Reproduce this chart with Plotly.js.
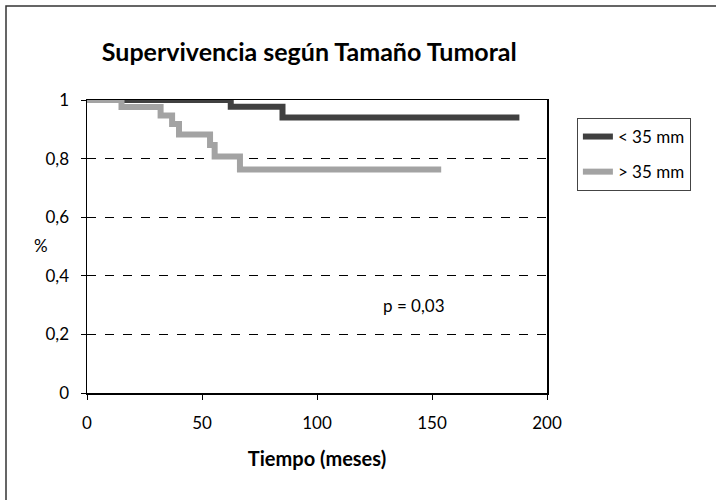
<!DOCTYPE html>
<html>
<head>
<meta charset="utf-8">
<script src="https://cdn.plot.ly/plotly-3.0.1.min.js"></script>
<style>html,body{margin:0;padding:0;background:#fff;}#chart{width:716px;height:500px;}</style>
</head>
<body>
<div id="chart"></div>
<script>
// Data (Kaplan-Meier step curves)
const smallTimes = [0, 62.5, 85, 188];
const smallSurv  = [1, 0.977, 0.940, 0.940];
const largeTimes = [0, 15, 32, 37, 40, 53.5, 55.5, 66.5, 154];
const largeSurv  = [1, 0.976, 0.947, 0.918, 0.882, 0.846, 0.807, 0.763, 0.763];
const seriesNames = ["&lt; 35 mm", "&gt; 35 mm"];
const xTicks = [0, 50, 100, 150, 200];
const yTicks = [0, 0.2, 0.4, 0.6, 0.8, 1];
const yTickText = ["0", "0,2", "0,4", "0,6", "0,8", "1"];

const FONT = "Lato, 'Open Sans', sans-serif";

const traces = [
  {x: smallTimes, y: smallSurv, name: seriesNames[0], mode: "lines", line: {shape: "hv", color: "#404040", width: 6}, legendgroup: "a"},
  {x: largeTimes, y: largeSurv, name: seriesNames[1], mode: "lines", line: {shape: "hv", color: "#a3a3a3", width: 6}, legendgroup: "b"}
];

const layout = {
  width: 716, height: 500,
  margin: {l: 87, r: 169, t: 100, b: 107},
  paper_bgcolor: "#fff", plot_bgcolor: "#fff",
  font: {family: FONT, size: 17, color: "#000"},
  title: {text: "<b>Supervivencia según Tamaño Tumoral</b>", font: {family: FONT, size: 25, color: "#000"}, x: 0.432, xanchor: "center", y: 0.896, yanchor: "middle"},
  xaxis: {range: [0, 200], tickvals: xTicks, ticks: "outside", ticklen: 5, tickcolor: "#000", ticklabelstandoff: 9,
    showline: true, linecolor: "#000", linewidth: 1.5, mirror: true, showgrid: false, zeroline: false,
    tickfont: {family: FONT, size: 17},
    title: {text: "<b>Tiempo (meses)</b>", font: {family: FONT, size: 20}, standoff: 20}},
  yaxis: {range: [0, 1], tickvals: yTicks, ticktext: yTickText, ticks: "outside", ticklen: 5, tickcolor: "#000", ticklabelstandoff: 8,
    showline: true, linecolor: "#000", linewidth: 1.5, mirror: true, zeroline: false,
    tickfont: {family: FONT, size: 17},
    showgrid: true, gridcolor: "#000", gridwidth: 1, griddash: "dash"},
  showlegend: true,
  legend: {x: 1.065, y: 0.9386, xanchor: "left", yanchor: "top", bgcolor: "#fff", bordercolor: "#444", borderwidth: 1,
    font: {family: FONT, size: 17}, traceorder: "grouped", tracegroupgap: 10},
  annotations: [
    {xref: "x", yref: "y", x: 142, y: 0.30, text: "p = 0,03", showarrow: false, font: {family: FONT, size: 17}},
    {xref: "paper", yref: "paper", x: (32-87)/460, y: (393-245)/293, text: "%", showarrow: false, font: {family: FONT, size: 17}}
  ],
  shapes: [
    {type: "rect", xref: "paper", yref: "paper", x0: (6-87)/460, x1: (730-87)/460, y0: (393-520)/293, y1: (393-6)/293,
     line: {color: "#333", width: 1.5}, fillcolor: "rgba(0,0,0,0)"}
  ]
};

Plotly.newPlot("chart", traces, layout, {displayModeBar: false, staticPlot: true});
</script>
</body>
</html>
